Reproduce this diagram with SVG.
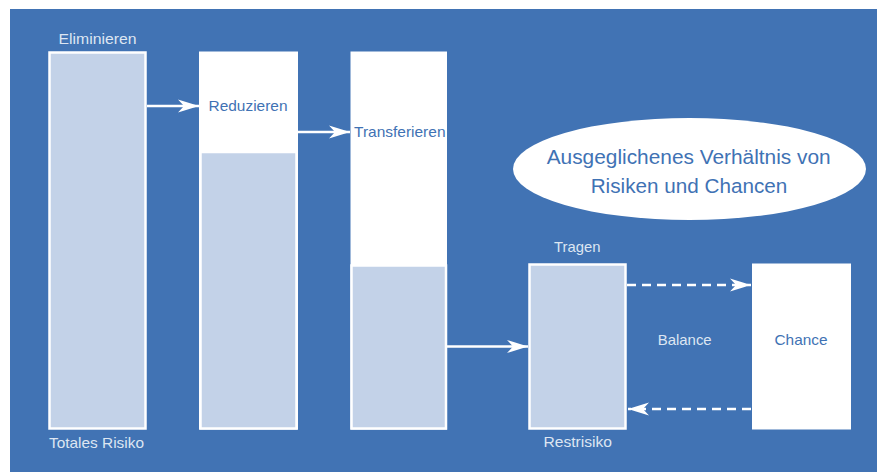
<svg xmlns="http://www.w3.org/2000/svg" width="877" height="472" viewBox="0 0 877 472">
<defs>
<style>
.bg{fill:#4173b4}
.bar{fill:#c3d2e8;stroke:#ffffff;stroke-width:2.5}
.white{fill:#ffffff}
.lt{font-family:"Liberation Sans",Arial,sans-serif;font-size:15px;fill:#dde6f2}
.dk{font-family:"Liberation Sans",Arial,sans-serif;font-size:15px;fill:#3f72b4}
.big{font-family:"Liberation Sans",Arial,sans-serif;font-size:20.5px;fill:#3f72b4}
.conn{stroke:#ffffff;stroke-width:2.5;fill:none}
.dash{stroke-dasharray:9 6}
</style>
<marker id="ah" markerWidth="22" markerHeight="14" refX="21" refY="7" orient="auto" markerUnits="userSpaceOnUse">
<path d="M0,0.5 L21,7 L0,13.5 L6,7 Z" fill="#ffffff"/>
</marker>
</defs>
<rect class="bg" x="10" y="9" width="867" height="463"/>
<g id="eliminieren">
<rect class="bar" x="49.5" y="52.5" width="96" height="376"/>
<text class="lt" x="58.5" y="44" textLength="78" lengthAdjust="spacingAndGlyphs">Eliminieren</text>
<text class="lt" x="49" y="447.5" textLength="95" lengthAdjust="spacingAndGlyphs">Totales Risiko</text>
</g>
<g id="reduzieren">
<rect class="white" x="199" y="51.5" width="99" height="378"/>
<rect class="bar" x="200.5" y="152" width="96" height="276.5"/>
<text class="dk" x="208.5" y="111" textLength="79" lengthAdjust="spacingAndGlyphs">Reduzieren</text>
</g>
<g id="transferieren">
<rect class="white" x="350.5" y="51.5" width="96.5" height="378"/>
<rect class="bar" x="351.5" y="265.5" width="94.5" height="163"/>
<text class="dk" x="354" y="136.5" textLength="91.5" lengthAdjust="spacingAndGlyphs">Transferieren</text>
</g>
<g id="tragen">
<rect class="bar" x="529.5" y="264.5" width="96" height="164"/>
<text class="lt" x="554" y="252" textLength="46.5" lengthAdjust="spacingAndGlyphs">Tragen</text>
<text class="lt" x="543.5" y="447.3" textLength="68.5" lengthAdjust="spacingAndGlyphs">Restrisiko</text>
</g>
<g id="chance">
<rect class="white" x="752" y="263.5" width="99" height="166"/>
<text class="dk" x="774.5" y="345.3" textLength="53" lengthAdjust="spacingAndGlyphs">Chance</text>
</g>
<g id="balance">
<text class="lt" x="657.7" y="345.3" textLength="54" lengthAdjust="spacingAndGlyphs">Balance</text>
</g>
<g id="ellipse">
<ellipse class="white" cx="689.5" cy="169" rx="176.5" ry="51"/>
<text class="big" x="546.7" y="163.5" textLength="284" lengthAdjust="spacingAndGlyphs">Ausgeglichenes Verhältnis von</text>
<text class="big" x="590.7" y="193.3" textLength="196.6" lengthAdjust="spacingAndGlyphs">Risiken und Chancen</text>
</g>
<g id="connectors">
<line class="conn" x1="147" y1="106" x2="199" y2="106" marker-end="url(#ah)"/>
<line class="conn" x1="298" y1="132" x2="350" y2="132" marker-end="url(#ah)"/>
<line class="conn" x1="447" y1="346.5" x2="528" y2="346.5" marker-end="url(#ah)"/>
<line class="conn dash" x1="627" y1="285" x2="751" y2="285" marker-end="url(#ah)"/>
<line class="conn dash" x1="751" y1="409" x2="628" y2="409" marker-end="url(#ah)"/>
</g>
</svg>
